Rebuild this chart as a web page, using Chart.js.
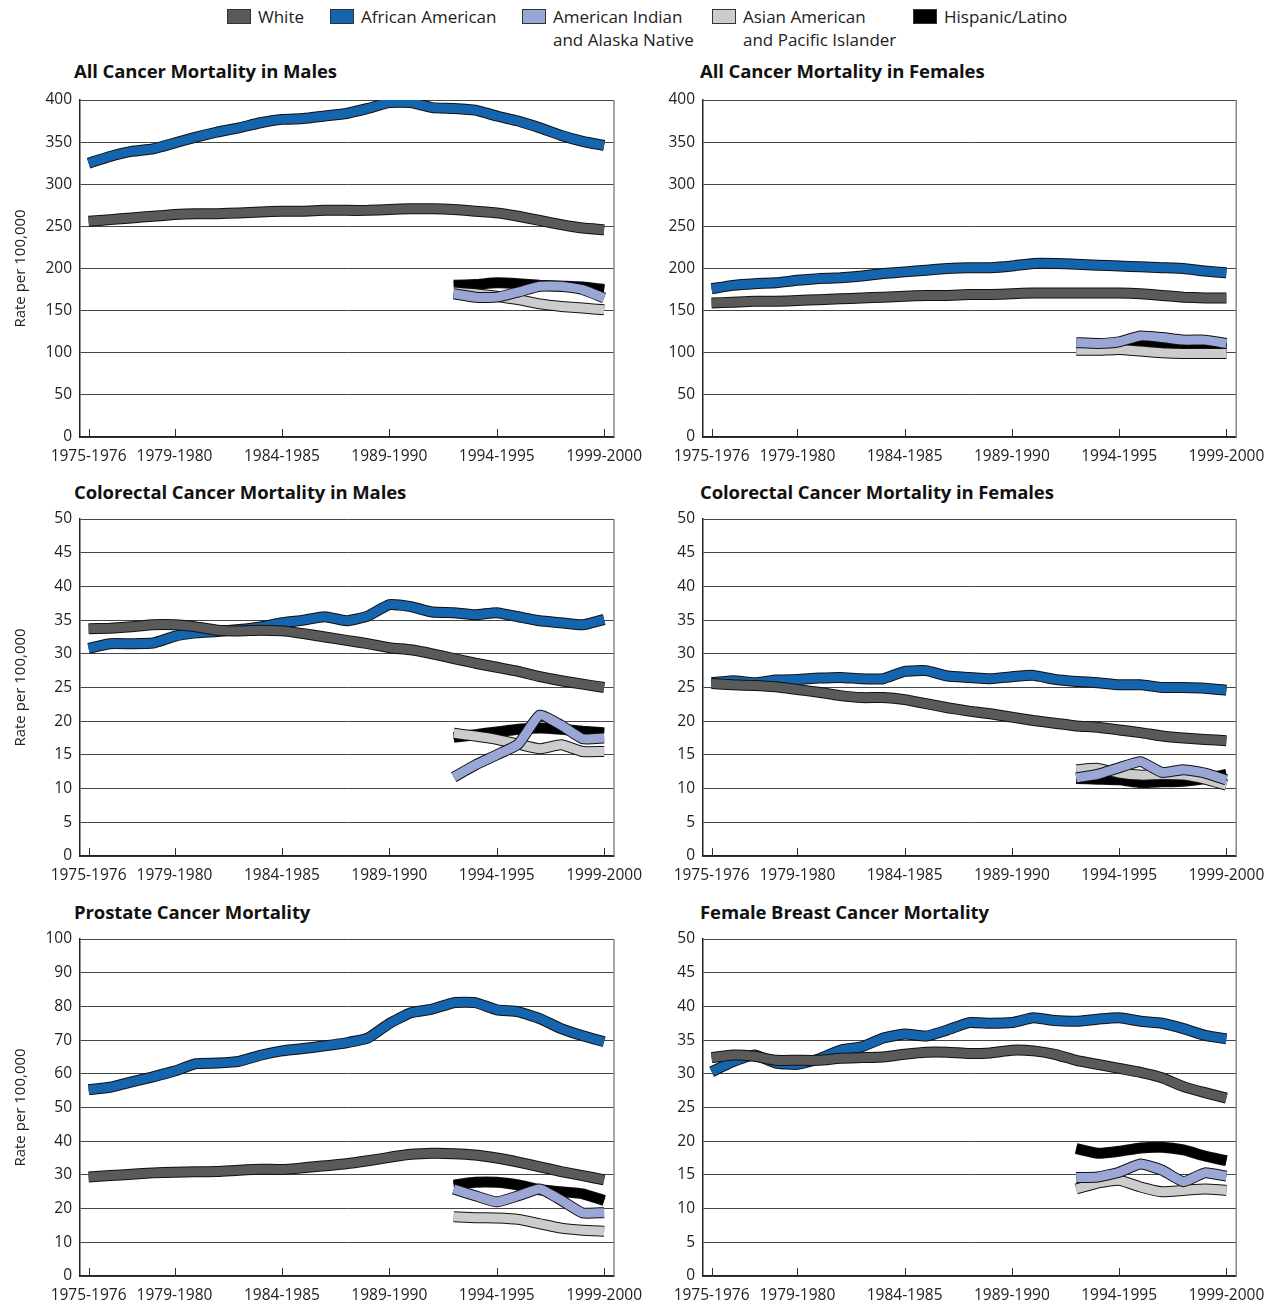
<!DOCTYPE html>
<html>
<head>
<meta charset="utf-8">
<script src="https://cdn.jsdelivr.net/npm/chart.js@4.4.1/dist/chart.umd.min.js"></script>
<style>
  body { margin: 0; background: #fff; font-family: "Open Sans", sans-serif; color: #222; }
  #wrap { position: relative; width: 1275px; height: 1304px; }
  canvas { position: absolute; }
  .title { position: absolute; font-weight: bold; font-size: 18.5px; line-height: 22px; color: #111; letter-spacing: -0.1px; }
  .leg { position: absolute; font-size: 17px; line-height: 23px; color: #222; }
  .leg i { position: absolute; left: -31px; top: 4px; width: 22px; height: 13px; border: 1px solid #333; }
</style>
</head>
<body>
<div id="wrap">
  <div class="leg" style="left:258px;top:5px"><i style="background:#5a5a5a"></i>White</div>
  <div class="leg" style="left:361px;top:5px"><i style="background:#1464ae"></i>African American</div>
  <div class="leg" style="left:553px;top:5px"><i style="background:#9aa6d6"></i>American Indian<br>and Alaska Native</div>
  <div class="leg" style="left:743px;top:5px"><i style="background:#cccccc"></i>Asian American<br>and Pacific Islander</div>
  <div class="leg" style="left:944px;top:5px"><i style="background:#000000"></i>Hispanic/Latino</div>
</div>
<script>
// periods 1975-1976 ... 1999-2000
const periods = [];
for (let y = 1975; y <= 1999; y++) periods.push(y + '-' + (y + 1));
const tickIdx = [0, 4, 9, 14, 19, 24];
const minorStart = 17; // 1992-1993

// All cancer, males
const allMaleWhite = [256, 258, 260, 262, 264, 265, 265, 266, 267, 268, 268, 269, 269, 269, 270, 271, 271, 270, 268, 266, 262, 257, 252, 248, 246];
const allMaleAA = [325, 333, 339, 342, 349, 356, 362, 367, 373, 377, 378, 381, 384, 390, 397, 397, 391, 390, 388, 381, 375, 367, 358, 351, 346];
const allMaleHisp = [180, 181, 183, 182, 180, 179, 178, 175];
const allMaleAsian = [172, 170, 167, 163, 158, 155, 153, 151];
const allMaleAIAN = [170, 166, 166, 172, 179, 179, 175, 165];

// All cancer, females
const allFemWhite = [159, 160, 161, 161, 162, 163, 164, 165, 166, 167, 168, 168, 169, 169, 170, 171, 171, 171, 171, 171, 170, 168, 166, 165, 165];
const allFemAA = [176, 180, 182, 183, 186, 188, 189, 191, 194, 196, 198, 200, 201, 201, 203, 206, 206, 205, 204, 203, 202, 201, 200, 197, 195];
const allFemHisp = [106, 107, 108, 112, 110, 108, 108, 106];
const allFemAsian = [103, 103, 104, 102, 100, 99, 99, 99];
const allFemAIAN = [112, 111, 113, 120, 118, 115, 115, 111];

// Colorectal, males
const crMaleWhite = [33.7, 33.8, 34.0, 34.3, 34.3, 34.0, 33.5, 33.4, 33.5, 33.4, 33.0, 32.5, 32.0, 31.5, 30.9, 30.6, 30.0, 29.3, 28.6, 28.0, 27.4, 26.6, 26.0, 25.5, 25.0];
const crMaleAA = [30.8, 31.5, 31.5, 31.6, 32.6, 33.1, 33.3, 33.6, 34.0, 34.6, 35.0, 35.5, 34.9, 35.6, 37.3, 37.0, 36.2, 36.1, 35.8, 36.1, 35.5, 34.9, 34.6, 34.3, 35.1];
const crMaleHisp = [17.6, 18.0, 18.4, 18.8, 19.0, 18.8, 18.5, 18.3];
const crMaleAsian = [18.2, 17.8, 17.3, 16.6, 15.9, 16.5, 15.5, 15.5];
const crMaleAIAN = [11.7, 13.5, 15.0, 16.6, 20.9, 19.4, 17.4, 17.5];

// Colorectal, females
const crFemWhite = [25.6, 25.4, 25.3, 25.1, 24.7, 24.3, 23.8, 23.5, 23.5, 23.2, 22.6, 22.0, 21.5, 21.1, 20.6, 20.1, 19.7, 19.3, 19.1, 18.7, 18.3, 17.8, 17.5, 17.3, 17.1];
const crFemAA = [25.7, 26.0, 25.7, 26.1, 26.2, 26.4, 26.5, 26.3, 26.3, 27.4, 27.5, 26.7, 26.5, 26.3, 26.6, 26.8, 26.2, 25.9, 25.7, 25.4, 25.4, 25.0, 25.0, 24.9, 24.6];
const crFemHisp = [11.5, 11.4, 11.3, 10.9, 11.0, 11.1, 11.5, 12.1];
const crFemAsian = [12.8, 13.0, 12.3, 12.0, 12.1, 12.0, 11.4, 10.5];
const crFemAIAN = [11.6, 12.1, 13.1, 14.0, 12.4, 12.8, 12.3, 11.3];

// Prostate
const proWhite = [29.4, 29.8, 30.2, 30.6, 30.8, 30.9, 31.0, 31.4, 31.7, 31.6, 32.1, 32.7, 33.3, 34.2, 35.2, 36.1, 36.4, 36.3, 35.9, 35.0, 33.8, 32.4, 31.0, 29.8, 28.5];
const proAA = [55.3, 56.0, 57.6, 59.1, 60.8, 63.0, 63.2, 63.7, 65.5, 66.8, 67.5, 68.3, 69.2, 70.6, 74.9, 78.1, 79.2, 81.1, 81.1, 79.0, 78.4, 76.4, 73.4, 71.3, 69.5];
const proHisp = [27.0, 27.8, 27.8, 27.0, 25.6, 25.0, 24.4, 22.4];
const proAsian = [17.6, 17.3, 17.2, 16.8, 15.5, 14.2, 13.6, 13.3];
const proAIAN = [25.8, 23.8, 22.0, 23.8, 25.8, 22.5, 18.7, 18.8];

// Female breast
const brWhite = [32.4, 32.8, 32.6, 32.0, 32.0, 32.0, 32.3, 32.4, 32.5, 32.9, 33.2, 33.2, 33.0, 33.1, 33.5, 33.4, 32.9, 32.0, 31.4, 30.8, 30.2, 29.4, 28.1, 27.2, 26.4];
const brAA = [30.3, 31.8, 32.8, 31.6, 31.4, 32.2, 33.5, 34.0, 35.3, 35.9, 35.6, 36.5, 37.6, 37.5, 37.6, 38.3, 37.9, 37.8, 38.1, 38.3, 37.8, 37.5, 36.7, 35.7, 35.2];
const brHisp = [18.9, 18.2, 18.5, 19.0, 19.1, 18.7, 17.8, 17.1];
const brAsian = [12.9, 13.8, 14.2, 13.2, 12.5, 12.7, 12.9, 12.7];
const brAIAN = [14.6, 14.7, 15.4, 16.6, 15.7, 14.0, 15.3, 14.8];

const colors = { white: '#5a5a5a', aa: '#1464ae', aian: '#9aa6d6', asian: '#cccccc', hisp: '#000000' };

const panels = [
  { title: 'All Cancer Mortality in Males', col: 0, row: 0, max: 400, step: 50,
    s: { aa: allMaleAA, white: allMaleWhite, hisp: allMaleHisp, asian: allMaleAsian, aian: allMaleAIAN } },
  { title: 'All Cancer Mortality in Females', col: 1, row: 0, max: 400, step: 50,
    s: { aa: allFemAA, white: allFemWhite, hisp: allFemHisp, asian: allFemAsian, aian: allFemAIAN } },
  { title: 'Colorectal Cancer Mortality in Males', col: 0, row: 1, max: 50, step: 5,
    s: { aa: crMaleAA, white: crMaleWhite, hisp: crMaleHisp, asian: crMaleAsian, aian: crMaleAIAN } },
  { title: 'Colorectal Cancer Mortality in Females', col: 1, row: 1, max: 50, step: 5,
    s: { aa: crFemAA, white: crFemWhite, hisp: crFemHisp, asian: crFemAsian, aian: crFemAIAN } },
  { title: 'Prostate Cancer Mortality', col: 0, row: 2, max: 100, step: 10,
    s: { aa: proAA, white: proWhite, hisp: proHisp, asian: proAsian, aian: proAIAN } },
  { title: 'Female Breast Cancer Mortality', col: 1, row: 2, max: 50, step: 5,
    s: { aa: brAA, white: brWhite, hisp: brHisp, asian: brAsian, aian: brAIAN } }
];

const rowTop = [52, 471, 891];
const drawOrder = ['aa', 'white', 'hisp', 'asian', 'aian']; // bottom to top

// right border + short x tick marks inside the plot
const framePlugin = {
  id: 'frame',
  afterDraw(chart) {
    const { ctx, chartArea } = chart;
    const x = chart.scales.x;
    ctx.save();
    ctx.strokeStyle = '#888';
    ctx.lineWidth = 1.5;
    ctx.beginPath();
    ctx.moveTo(chartArea.right, chartArea.top);
    ctx.lineTo(chartArea.right, chartArea.bottom);
    ctx.stroke();
    ctx.strokeStyle = '#333';
    ctx.lineWidth = 1;
    tickIdx.forEach(i => {
      const px = Math.round(x.getPixelForValue(i)) + 0.5;
      ctx.beginPath();
      ctx.moveTo(px, chartArea.bottom);
      ctx.lineTo(px, chartArea.bottom - 8);
      ctx.stroke();
    });
    ctx.restore();
  }
};

const wrap = document.getElementById('wrap');

panels.forEach(p => {
  const left = p.col === 0 ? 0 : 655;
  const width = p.col === 0 ? 655 : 620;
  const top = rowTop[p.row];

  const t = document.createElement('div');
  t.className = 'title';
  t.textContent = p.title;
  t.style.left = (p.col === 0 ? 74 : 700) + 'px';
  t.style.top = (top + (p.row === 0 ? 8 : 10)) + 'px';
  wrap.appendChild(t);

  const canvas = document.createElement('canvas');
  canvas.width = width;
  canvas.height = 420;
  canvas.style.left = left + 'px';
  canvas.style.top = top + 'px';
  wrap.appendChild(canvas);

  const datasets = [];
  const n = drawOrder.length;
  drawOrder.forEach((key, k) => {
    const vals = p.s[key];
    const offset = vals.length === periods.length ? 0 : minorStart;
    const pts = vals.map((v, i) => ({ x: offset + i, y: v }));
    datasets.push({
      data: pts, borderColor: '#111', borderWidth: 11, order: (n - k) * 2,
      pointRadius: 0, tension: 0.15, borderJoinStyle: 'round', borderCapStyle: 'butt'
    });
    datasets.push({
      data: pts, borderColor: colors[key], borderWidth: 9, order: (n - k) * 2 - 1,
      pointRadius: 0, tension: 0.15, borderJoinStyle: 'round', borderCapStyle: 'butt'
    });
  });

  new Chart(canvas, {
    type: 'line',
    data: { datasets },
    plugins: [framePlugin],
    options: {
      responsive: false,
      animation: false,
      devicePixelRatio: 1,
      layout: { padding: { top: 48, right: p.col === 0 ? 41 : 37, left: 0, bottom: 0 } },
      plugins: { legend: { display: false }, tooltip: { enabled: false } },
      scales: {
        x: {
          type: 'linear',
          min: -0.4,
          max: 24.46,
          afterBuildTicks: scale => { scale.ticks = tickIdx.map(v => ({ value: v })); },
          afterFit: scale => { scale.height = 35; },
          grid: { display: false, drawTicks: false },
          border: { display: true, color: '#222', width: 1.5 },
          ticks: {
            autoSkip: false, maxRotation: 0, padding: 10,
            font: { family: 'Open Sans', size: 15.5 }, color: '#222',
            callback: v => periods[v]
          }
        },
        y: {
          min: 0,
          max: p.max,
          afterFit: scale => { scale.width = p.col === 0 ? 80 : 48; },
          grid: { color: '#444', lineWidth: 1, drawTicks: false },
          border: { display: true, color: '#222', width: 1.5 },
          ticks: {
            stepSize: p.step, padding: 8,
            font: { family: 'Open Sans', size: 15.5 }, color: '#222'
          },
          title: {
            display: p.col === 0,
            text: 'Rate per 100,000',
            padding: { top: 12 },
            font: { family: 'Open Sans', size: 15 }, color: '#222'
          }
        }
      }
    }
  });
});
</script>
</body>
</html>
